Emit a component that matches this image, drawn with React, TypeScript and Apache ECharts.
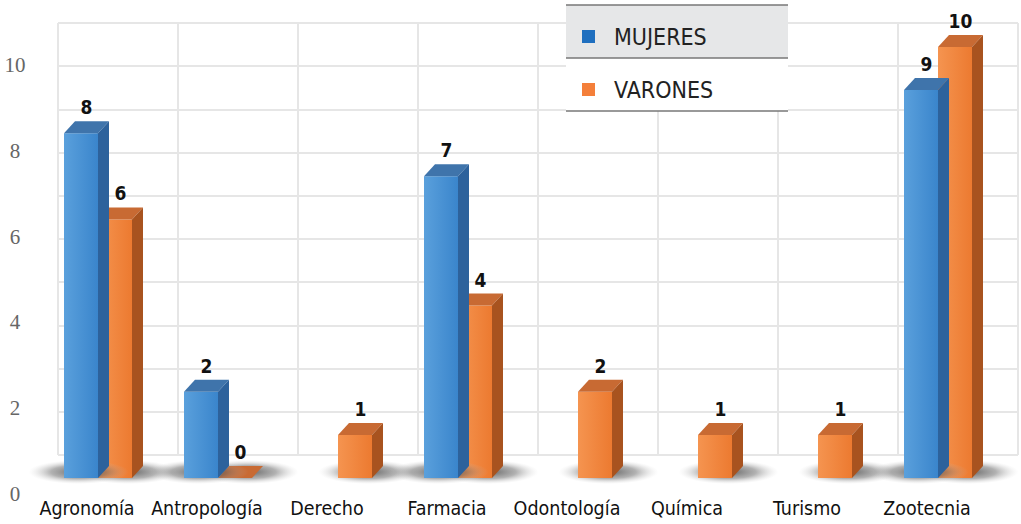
import React, { useEffect, useRef } from "react";
import * as echarts from "echarts";

const categories = ["Agronomía", "Antropología", "Derecho", "Farmacia", "Odontología", "Química", "Turismo", "Zootecnia"];
const mujeres: (number | null)[] = [8, 2, null, 7, null, null, null, 9];
const varones: (number | null)[] = [6, 0, 1, 4, 2, 1, 1, 10];
const yTicks = [0, 2, 4, 6, 8, 10];

const BAR_W = 34;
const DX = 11;
const DY = 12;
const FONT = '"DejaVu Sans Condensed", "Liberation Sans Narrow", "Noto Sans", sans-serif';

const palettes = [
  { front: ["#5aa0dc", "#3a85cc"], top: "#3f74ab", side: "#2d629c" },
  { front: ["#f59450", "#ec7a30"], top: "#c86a33", side: "#a8531f" },
];

function makeRender(si: number) {
  return (params: any, api: any) => {
    const idx = api.value(0);
    const v = api.value(1);
    const base = api.coord([idx, 0]);
    const top = api.coord([idx, v]);
    const x0 = base[0] + (si === 0 ? -BAR_W : 0);
    const x1 = x0 + BAR_W;
    const yT = top[1];
    const yB = base[1];
    const p = palettes[si];
    const children: any[] = [
      {
        type: "ellipse",
        shape: { cx: (x0 + x1 + DX) / 2 + (si === 0 ? -8 : 8), cy: yB - DY / 2, rx: BAR_W + 16, ry: 12 },
        style: {
          fill: new echarts.graphic.RadialGradient(0.5, 0.5, 0.5, [
            { offset: 0, color: "rgba(60,60,60,0.8)" },
            { offset: 0.55, color: "rgba(100,100,100,0.5)" },
            { offset: 1, color: "rgba(200,200,200,0)" },
          ]),
        },
        z2: 0,
      },
      {
        type: "rect",
        shape: { x: x0, y: yT, width: BAR_W, height: yB - yT },
        style: {
          fill: new echarts.graphic.LinearGradient(0, 0, 1, 0, [
            { offset: 0, color: p.front[0] },
            { offset: 1, color: p.front[1] },
          ]),
        },
        z2: 2,
      },
      {
        type: "polygon",
        shape: { points: [[x0, yT], [x1, yT], [x1 + DX, yT - DY], [x0 + DX, yT - DY]] },
        style: { fill: p.top },
        z2: 2,
      },
      {
        type: "polygon",
        shape: { points: [[x1, yT], [x1 + DX, yT - DY], [x1 + DX, yB - DY], [x1, yB]] },
        style: { fill: p.side },
        z2: 2,
      },
      {
        type: "text",
        x: (x0 + x1) / 2 + DX / 2,
        y: yT - 26,
        style: {
          text: String(v),
          fill: "#111",
          font: 'bold 19px ' + FONT,
          align: "center",
          verticalAlign: "middle",
        },
        z2: 3,
      },
    ];
    return { type: "group", children };
  };
}

function toData(arr: (number | null)[]) {
  const out: number[][] = [];
  arr.forEach((v, i) => {
    if (v !== null) out.push([i, v]);
  });
  return out;
}

export default function App() {
  const ref = useRef<HTMLDivElement>(null);
  useEffect(() => {
    if (!ref.current) return;
    const chart = echarts.init(ref.current, undefined, { renderer: "svg" });
    chart.setOption({
      animation: false,
      backgroundColor: "#ffffff",
      graphic: [
        { type: "rect", shape: { x: 566, y: 5, width: 222, height: 53 }, style: { fill: "#e6e7e8" }, z: 5 },
        { type: "rect", shape: { x: 566, y: 58, width: 222, height: 53 }, style: { fill: "#ffffff" }, z: 5 },
        { type: "line", shape: { x1: 566, y1: 5, x2: 788, y2: 5 }, style: { stroke: "#777", lineWidth: 1.5 }, z: 6 },
        { type: "line", shape: { x1: 566, y1: 58, x2: 788, y2: 58 }, style: { stroke: "#777", lineWidth: 1.5 }, z: 6 },
        { type: "line", shape: { x1: 566, y1: 111, x2: 788, y2: 111 }, style: { stroke: "#777", lineWidth: 1.5 }, z: 6 },
      ],
      legend: {
        show: true,
        orient: "vertical",
        left: 582,
        top: 25,
        padding: 0,
        itemWidth: 13,
        itemHeight: 13,
        itemGap: 30,
        icon: "rect",
        z: 10,
        textStyle: {
          fontSize: 23,
          color: "#222",
          fontFamily: FONT,
          padding: [0, 0, 0, 14],
          lineHeight: 20,
        },
        data: ["MUJERES", "VARONES"],
      },
      grid: [
        { left: 38, right: 23, top: 47, bottom: 46 },
        { left: 58, right: 3, top: 23, bottom: 69 },
        { left: 38, right: 23, top: 65, bottom: 30 },
      ],
      xAxis: [
        {
          type: "category",
          gridIndex: 0,
          data: categories,
          axisLine: { show: false },
          axisTick: { show: false },
          splitLine: { show: false },
          axisLabel: {
            interval: 0,
            hideOverlap: false,
            margin: 20,
            padding: [0, 22, 0, 0],
            fontSize: 19.5,
            color: "#111",
            fontFamily: FONT,
          },
        },
        {
          type: "category",
          gridIndex: 1,
          data: categories,
          axisLine: { show: false },
          axisTick: { show: false },
          axisLabel: { show: false },
          splitLine: { show: true, interval: 0, lineStyle: { color: "#e6e6e6", width: 2 } },
        },
        {
          type: "category",
          gridIndex: 2,
          data: categories,
          show: false,
        },
      ],
      yAxis: [
        {
          type: "value",
          gridIndex: 0,
          min: 0,
          max: 10,
          interval: 2,
          axisLine: { show: false },
          axisTick: { show: false },
          splitLine: { show: false },
          axisLabel: { show: false },
        },
        {
          type: "value",
          gridIndex: 1,
          min: 0,
          max: 10,
          interval: 1,
          axisLine: { show: false },
          axisTick: { show: false },
          axisLabel: { show: false },
          splitLine: { show: true, lineStyle: { color: "#e6e6e6", width: 2 } },
        },
        {
          type: "value",
          gridIndex: 2,
          min: 0,
          max: 10,
          interval: 2,
          axisLine: { show: false },
          axisTick: { show: false },
          splitLine: { show: false },
          axisLabel: {
            align: "center",
            margin: 23,
            fontSize: 21,
            color: "#666",
            fontFamily: '"Liberation Serif", "DejaVu Serif", serif',
            formatter: (v: number) => (yTicks.includes(v) ? String(v) : ""),
          },
        },
      ],
      series: [
        {
          name: "MUJERES",
          type: "custom",
          xAxisIndex: 0,
          yAxisIndex: 0,
          itemStyle: { color: "#1f6fbf" },
          renderItem: makeRender(0),
          data: toData(mujeres),
          z: 3,
        },
        {
          name: "VARONES",
          type: "custom",
          xAxisIndex: 0,
          yAxisIndex: 0,
          itemStyle: { color: "#f47f3a" },
          renderItem: makeRender(1),
          data: toData(varones),
          z: 2,
        },
      ],
    });
    return () => chart.dispose();
  }, []);
  return <div ref={ref} style={{ width: 1021, height: 524, position: "fixed", left: 0, top: 0 }} />;
}
